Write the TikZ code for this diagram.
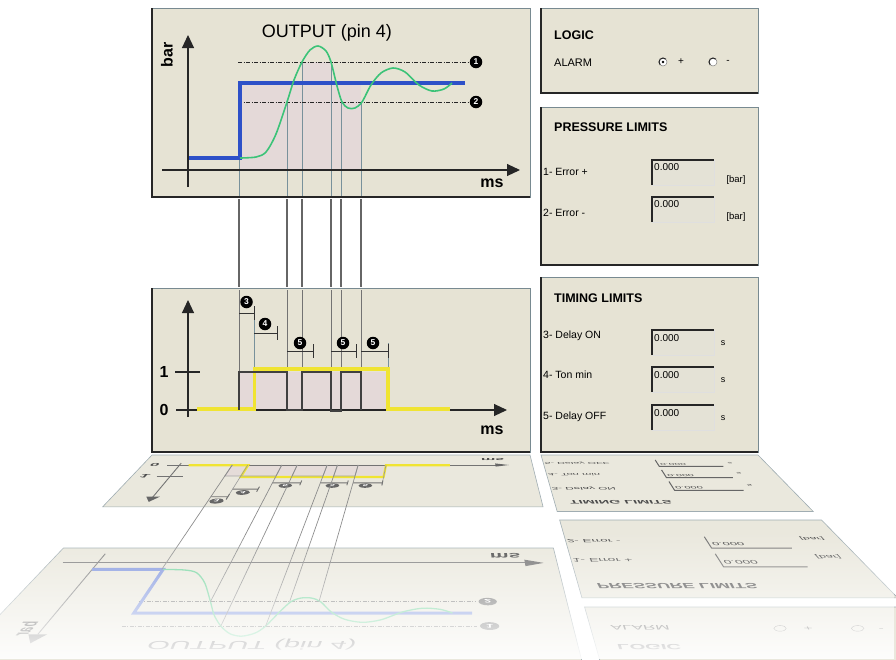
\documentclass[tikz,border=0pt]{standalone}
\usepackage{fontspec}
\setmainfont{Liberation Sans}
\usetikzlibrary{arrows.meta,fadings}

\definecolor{panelbg}{RGB}{230,227,212}
\definecolor{mirbg}{RGB}{234,232,221}
\definecolor{fieldbg}{RGB}{228,226,214}
\definecolor{edgegray}{RGB}{120,138,145}
\definecolor{guide}{RGB}{120,145,155}
\definecolor{outblue}{RGB}{45,80,200}
\definecolor{wavegreen}{RGB}{60,195,120}
\definecolor{sigyellow}{RGB}{240,228,50}
\definecolor{shadepink}{RGB}{228,217,216}

\pgfkeys{/mir/.cd, x/.store in=\mirx, y/.store in=\miry}
\newcommand\mirpoint[4]{%
  \pgfmathsetmacro\mird{#1-(\miry)}%
  \pgfmathsetmacro\miryy{#2+#3*\mird+#4*\mird*\mird}%
  \pgfmathsetmacro\mirxx{451+((\mirx)-451)*(1+(\miryy-455)/314)}%
  \pgfpointxy{\mirxx}{\miryy}}
\tikzdeclarecoordinatesystem{mira}{\pgfkeys{/mir/.cd,#1}\mirpoint{452}{455}{0.2109}{0.000647}}
\tikzdeclarecoordinatesystem{mirb}{\pgfkeys{/mir/.cd,#1}\mirpoint{198}{548}{0.52}{0.0004}}
\tikzdeclarecoordinatesystem{mirp}{\pgfkeys{/mir/.cd,#1}\mirpoint{265}{520}{0.351}{0.0009}}
\tikzdeclarecoordinatesystem{mirl}{\pgfkeys{/mir/.cd,#1}\mirpoint{93}{607}{0.69}{0}}

\begin{document}
\begin{tikzpicture}[x=1pt,y=-1pt,
  panel/.style={fill=panelbg,draw=edgegray,line width=0.7pt},
  rim/.style={black!85,line width=2.6pt},
  mirpanel/.style={fill=mirbg,draw=edgegray!70,line width=0.6pt},
  axis/.style={black!85,line width=1.1pt},
  axisarrow/.style={-{Triangle[length=13pt,width=12pt]}},
  guideline/.style={guide,line width=0.6pt},
  gapline/.style={black!60,line width=1.5pt},
  limit/.style={black!85,line width=0.8pt,dash pattern=on 4pt off 1.5pt on 1pt off 1.5pt},
  bracketline/.style={black!80,line width=0.9pt},
  num/.style={circle,fill=black,text=white,inner sep=0pt,minimum size=12.5pt,
    font=\bfseries\fontsize{8.5}{9}\selectfont},
  txt/.style={inner sep=0pt,font=\fontsize{#1}{#1}\selectfont},
  boldtxt/.style={inner sep=0pt,font=\bfseries\fontsize{#1}{#1}\selectfont},
  mir/.style n args={3}{cm={#1,0,#2,-#3,(0,0)}},
  mirtxt/.style={text=black!70}]
\useasboundingbox (0,0) rectangle (896,659);

% reflection of the lower graph
\filldraw[mirpanel] (mira cs:x=152,y=452) -- (mira cs:x=530,y=452) -- (mira cs:x=530,y=288) -- (mira cs:x=152,y=288) -- cycle;
\fill[shadepink!80!mirbg] (mira cs:x=239,y=410) -- (mira cs:x=388,y=410) -- (mira cs:x=388,y=372) -- (mira cs:x=239,y=372) -- cycle;
\draw[black!55,line width=0.9pt] (mira cs:x=176,y=410) -- (mira cs:x=495,y=410);
\fill[black!60] (mira cs:x=507,y=410) -- (mira cs:x=494,y=404) -- (mira cs:x=494,y=416) -- cycle;
\draw[black!55,line width=0.9pt] (mira cs:x=188,y=417) -- (mira cs:x=188,y=312);
\fill[black!60] (mira cs:x=188,y=300) -- (mira cs:x=182,y=313) -- (mira cs:x=194,y=313) -- cycle;
\draw[black!55] (mira cs:x=175,y=372) -- (mira cs:x=200,y=372);
\draw[sigyellow,line width=2.2pt] (mira cs:x=197,y=409) -- (mira cs:x=254.5,y=409) -- (mira cs:x=254.5,y=369)
  -- (mira cs:x=388,y=369) -- (mira cs:x=388,y=409) -- (mira cs:x=450,y=409);
\draw[black!35,line width=0.8pt] (mira cs:x=239,y=410) -- (mira cs:x=239,y=372) -- (mira cs:x=287,y=372) -- (mira cs:x=287,y=410)
  (mira cs:x=302,y=410) -- (mira cs:x=302,y=372) -- (mira cs:x=331,y=372) -- (mira cs:x=331,y=410)
  (mira cs:x=341,y=410) -- (mira cs:x=341,y=372) -- (mira cs:x=361,y=372) -- (mira cs:x=361,y=410);
\draw[black!40,line width=0.6pt] (mira cs:x=254,y=410) -- (mira cs:x=254,y=306) (mira cs:x=388,y=410) -- (mira cs:x=388,y=343);
\foreach \xa/\xb/\yb in {239/254/313, 254/277/333, 287/313/351, 331/356/351, 361/388/351}
  \draw[bracketline,black!55] (mira cs:x=\xa,y=\yb) -- (mira cs:x=\xb,y=\yb) (mira cs:x=\xb,y=\yb-7) -- (mira cs:x=\xb,y=\yb+7);
\node[num,fill=black!60,mir={1.146}{-0.264}{0.405}] at (mira cs:x=246.5,y=302) {3};
\node[num,fill=black!60,mir={1.12}{-0.223}{0.376}] at (mira cs:x=265,y=324) {4};
\node[num,fill=black!60,mir={1.098}{-0.169}{0.352}] at (mira cs:x=300,y=343) {5};
\node[num,fill=black!60,mir={1.098}{-0.121}{0.352}] at (mira cs:x=343,y=343) {5};
\node[num,fill=black!60,mir={1.098}{-0.087}{0.352}] at (mira cs:x=373,y=343) {5};
\node[mirtxt,boldtxt=16,mir={1.03}{-0.24}{0.265}] at (mira cs:x=164,y=410) {0};
\node[mirtxt,boldtxt=16,mir={1.07}{-0.29}{0.314}] at (mira cs:x=164,y=372) {1};
\node[mirtxt,boldtxt=16,mir={1.015}{0.03}{0.24}] at (mira cs:x=492,y=430) {ms};

% reflection of the upper graph
\filldraw[mirpanel] (mirb cs:x=152,y=198) -- (mirb cs:x=530,y=198) -- (mirb cs:x=530,y=8) -- (mirb cs:x=152,y=8) -- cycle;
\draw[black!50,line width=0.9pt] (mirb cs:x=162,y=170) -- (mirb cs:x=506,y=170);
\fill[black!55] (mirb cs:x=520,y=170) -- (mirb cs:x=506,y=164) -- (mirb cs:x=506,y=176) -- cycle;
\draw[black!50,line width=0.9pt] (mirb cs:x=188,y=187) -- (mirb cs:x=188,y=49);
\fill[black!55] (mirb cs:x=188,y=35) -- (mirb cs:x=182,y=49) -- (mirb cs:x=194,y=49) -- cycle;
\draw[limit,black!50] (mirb cs:x=238,y=62) -- (mirb cs:x=468,y=62);
\draw[limit,black!50] (mirb cs:x=238,y=102) -- (mirb cs:x=468,y=102);
\draw[outblue!60,line width=3pt] (mirb cs:x=188,y=158) -- (mirb cs:x=240,y=158) -- (mirb cs:x=240,y=83) -- (mirb cs:x=465,y=83);
\draw[wavegreen!70,line width=1.3pt] plot[smooth] coordinates {(mirb cs:x=240,y=158) (mirb cs:x=256,y=157)
  (mirb cs:x=266,y=152) (mirb cs:x=276,y=134) (mirb cs:x=287,y=102) (mirb cs:x=294,y=80) (mirb cs:x=302,y=62)
  (mirb cs:x=310,y=50) (mirb cs:x=318,y=46) (mirb cs:x=326,y=51) (mirb cs:x=331,y=62) (mirb cs:x=337,y=86)
  (mirb cs:x=342,y=102) (mirb cs:x=348,y=108) (mirb cs:x=355,y=108) (mirb cs:x=362,y=102) (mirb cs:x=371,y=85)
  (mirb cs:x=381,y=73) (mirb cs:x=393,y=68) (mirb cs:x=405,y=72) (mirb cs:x=419,y=85) (mirb cs:x=432,y=91)
  (mirb cs:x=444,y=89) (mirb cs:x=452,y=83)};
\node[num,fill=black!55,mir={1.545}{0.05}{0.629}] at (mirb cs:x=476,y=62) {1};
\node[num,fill=black!55,mir={1.467}{0.048}{0.597}] at (mirb cs:x=476,y=102) {2};
\node[mirtxt,boldtxt=16,mir={1.32}{0.07}{0.532}] at (mirb cs:x=492,y=183) {ms};
\node[mirtxt,txt=18,mir={1.604}{-0.257}{0.652}] at (mirb cs:x=327,y=33) {OUTPUT (pin 4)};
\node[mirtxt,boldtxt=14,cm={-0.56,-0.634,-1.5,0,(0,0)}] at (mirb cs:x=177,y=58) {bar};

% guides across both reflections
\foreach \gx/\gy in {239/158, 287/102, 302/62, 331/62, 341/102, 361/102}
  \draw[black!45,line width=0.7pt] (mira cs:x=\gx,y=410) -- (mira cs:x=\gx,y=288) -- (mirb cs:x=\gx,y=198) -- (mirb cs:x=\gx,y=\gy);

% reflection of timing limits
\filldraw[mirpanel] (mira cs:x=541,y=452) -- (mira cs:x=758,y=452) -- (mira cs:x=758,y=277) -- (mira cs:x=541,y=277) -- cycle;
\foreach \ya in {330,367,405}
  \draw[black!60,line width=1pt] (mira cs:x=652,y=\ya+25) -- (mira cs:x=652,y=\ya) -- (mira cs:x=714,y=\ya);
\node[mirtxt,txt=10.5,anchor=west,mir={1.027}{0.10}{0.26}] at (mira cs:x=542,y=416.7) {5- Delay OFF};
\node[mirtxt,txt=10.5,anchor=west,mir={1.067}{0.117}{0.31}] at (mira cs:x=542,y=375) {4- Ton min};
\node[mirtxt,txt=10.5,anchor=west,mir={1.106}{0.136}{0.36}] at (mira cs:x=542,y=336) {3- Delay ON};
\node[mirtxt,boldtxt=12.5,anchor=west,mir={1.155}{0.21}{0.41}] at (mira cs:x=554,y=298) {TIMING LIMITS};
\node[mirtxt,txt=10,anchor=west,mir={1.028}{0.18}{0.26}] at (mira cs:x=654,y=412.5) {0.000};
\node[mirtxt,txt=10,anchor=west,mir={1.062}{0.216}{0.308}] at (mira cs:x=654,y=374.5) {0.000};
\node[mirtxt,txt=10,anchor=west,mir={1.101}{0.25}{0.356}] at (mira cs:x=654,y=337.5) {0.000};
\node[mirtxt,txt=9,mir={1.026}{0.23}{0.26}] at (mira cs:x=723,y=418) {s};
\node[mirtxt,txt=9,mir={1.06}{0.27}{0.31}] at (mira cs:x=723,y=381) {s};
\node[mirtxt,txt=9,mir={1.1}{0.31}{0.356}] at (mira cs:x=723,y=343) {s};

% reflection of pressure limits
\filldraw[mirpanel] (mirp cs:x=541,y=265) -- (mirp cs:x=758,y=265) -- (mirp cs:x=758,y=107) -- (mirp cs:x=541,y=107) -- cycle;
\foreach \ya in {160,197}
  \draw[black!55,line width=1pt] (mirp cs:x=652,y=\ya+25) -- (mirp cs:x=652,y=\ya) -- (mirp cs:x=714,y=\ya);
\node[mirtxt,txt=10.5,anchor=west,mir={1.273}{0.16}{0.445}] at (mirp cs:x=542,y=213) {2- Error -};
\node[mirtxt,txt=10.5,anchor=west,mir={1.336}{0.19}{0.518}] at (mirp cs:x=542,y=172) {1- Error +};
\node[mirtxt,boldtxt=12.5,anchor=west,mir={1.415}{0.31}{0.6}] at (mirp cs:x=554,y=127) {PRESSURE LIMITS};
\node[mirtxt,txt=10,anchor=west,mir={1.344}{0.37}{0.526}] at (mirp cs:x=654,y=167.5) {0.000};
\node[mirtxt,txt=10,anchor=west,mir={1.28}{0.32}{0.455}] at (mirp cs:x=654,y=204.5) {0.000};
\node[mirtxt,txt=9.5,mir={1.323}{0.46}{0.504}] at (mirp cs:x=736,y=180) {[bar]};
\node[mirtxt,txt=9.5,mir={1.264}{0.39}{0.434}] at (mirp cs:x=736,y=218) {[bar]};

% reflection of logic
\filldraw[mirpanel] (mirl cs:x=541,y=93) -- (mirl cs:x=758,y=93) -- (mirl cs:x=758,y=8) -- (mirl cs:x=541,y=8) -- cycle;
\node[mirtxt,txt=11,anchor=west,mir={1.55}{0.2}{0.6}] at (mirl cs:x=554,y=63) {ALARM};
\node[mirtxt,boldtxt=12.5,anchor=west,mir={1.61}{0.2}{0.6}] at (mirl cs:x=554,y=35) {LOGIC};
\draw[black!55] (mirl cs:x=663,y=62) ellipse[x radius=6.2,y radius=2.8];
\draw[black!55] (mirl cs:x=713,y=62) ellipse[x radius=6.3,y radius=2.8];
\node[mirtxt,txt=10,mir={1.55}{0.3}{0.6}] at (mirl cs:x=681,y=62) {+};
\node[mirtxt,txt=10,mir={1.55}{0.3}{0.6}] at (mirl cs:x=728,y=62) {-};

\fill[white,path fading=north,fill opacity=0.92] (0,530) rectangle (896,659);

% front panels
\foreach \xa/\ya/\xb/\yb in {152/8/530/197, 152/288/530/452, 541/8/758/93, 541/107/758/265, 541/277/758/452} {
  \draw[panel] (\xa,\ya) rectangle (\xb,\yb);
  \draw[rim] (\xa,\ya) |- (\xb,\yb);
}
\fill[shadepink] (240,83) rectangle (361,170);
\fill[shadepink] (302,62) rectangle (331,83);
\fill[shadepink] (239,372) rectangle (388,410);

% guides between the graphs
\foreach \gx/\gy in {239/158, 287/102, 302/62, 331/62, 341/102, 361/102} {
  \draw[guideline] (\gx,\gy) -- (\gx,196);
  \draw[gapline] (\gx,199) -- (\gx,287);
  \draw[black!55,line width=0.8pt] (\gx,290) -- (\gx,410);
}
\draw[guideline] (254,306) -- (254,410);
\draw[guideline] (388,343) -- (388,410);

% upper graph
\draw[limit] (238,62) -- (468,62);
\draw[limit] (238,102) -- (468,102);
\node[num] (lim1) at (476,62) {1};
\node[num] (lim2) at (476,102) {2};
\draw[outblue,line width=3.8pt] (188,158) -- (240,158) -- (240,83) -- (465,83);
\draw[wavegreen,line width=1.6pt] plot[smooth] coordinates {(240,158) (256,157) (266,152) (276,134) (287,102)
  (294,80) (302,62) (310,50) (318,46) (326,51) (331,62) (337,86) (342,102) (348,108) (355,108) (362,102)
  (371,85) (381,73) (393,68) (405,72) (419,85) (432,91) (444,89) (452,83)};
\draw[axis,axisarrow] (188,187) -- (188,35);
\draw[axis,axisarrow] (162,170) -- (520,170);
\node[txt=18] (title) at (327,33) {OUTPUT (pin 4)};
\node[boldtxt=16,rotate=90] (barlabel) at (167,55) {bar};
\node[boldtxt=16] (mstop) at (492,183) {ms};

% lower graph
\draw[axis,axisarrow] (188,417) -- (188,300);
\draw[axis,axisarrow] (176,410) -- (507,410);
\draw[axis] (175,372) -- (200,372);
\draw[sigyellow,line width=3.2pt] (197,409) -- (254.5,409) -- (254.5,369) -- (388,369) -- (388,409) -- (450,409);
\draw[black!75,line width=1.2pt] (239,410) -- (239,372) -- (287,372) -- (287,410) -- (302,410) -- (302,372)
  -- (331,372) -- (331,411) -- (341,411) -- (341,372) -- (361,372) -- (361,410);
\foreach \xa/\xb/\yb in {239/254/313, 254/277/333, 287/313/351, 331/356/351, 361/388/351}
  \draw[bracketline] (\xa,\yb) -- (\xb,\yb) (\xb,\yb-7) -- (\xb,\yb+7);
\node[num] (d3) at (246.5,302) {3};
\node[num] (d4) at (265,324) {4};
\node[num] (d5a) at (300,343) {5};
\node[num] (d5b) at (343,343) {5};
\node[num] (d5c) at (373,343) {5};
\node[boldtxt=16] (one) at (164,372) {1};
\node[boldtxt=16] (zero) at (164,410) {0};
\node[boldtxt=16] (msbottom) at (492,430) {ms};

% logic
\node[boldtxt=12.5,anchor=west] (logic) at (554,35) {LOGIC};
\node[txt=11,anchor=west] (alarm) at (554,63) {ALARM};
\foreach \rx in {663,713} {
  \draw[gray,fill=white,line width=0.5pt] (\rx,62) circle[radius=4];
  \draw[black!85,line width=1pt] (\rx,62) ++(135:4) arc[start angle=135,end angle=315,radius=4];
}
\fill (663,62) circle[radius=1.3];
\node[txt=10] (plus) at (681,62) {+};
\node[txt=10] (minus) at (728,62) {-};

% pressure limits
\node[boldtxt=12.5,anchor=west] (plimits) at (554,127) {PRESSURE LIMITS};
\foreach \ya/\ly/\lab in {160/172/1- Error +, 197/213/2- Error -} {
  \node[txt=10.5,anchor=west] at (543,\ly) {\lab};
  \fill[fieldbg] (652,\ya) rectangle (714,\ya+25);
  \draw[white!75!gray,line width=0.6pt] (652,\ya+25) -| (714,\ya);
  \draw[black!85,line width=1.3pt] (652,\ya+25) |- (714,\ya);
  \node[txt=10,anchor=west] at (654,\ya+7.5) {0.000};
  \node[txt=9.5] at (736,\ya+20) {[bar]};
}

% timing limits
\node[boldtxt=12.5,anchor=west] (tlimits) at (554,298) {TIMING LIMITS};
\foreach \ya/\ly/\lab in {330/336/3- Delay ON, 367/375/4- Ton min, 405/416.7/5- Delay OFF} {
  \node[txt=10.5,anchor=west] at (543,\ly) {\lab};
  \fill[fieldbg] (652,\ya) rectangle (714,\ya+25);
  \draw[white!75!gray,line width=0.6pt] (652,\ya+25) -| (714,\ya);
  \draw[black!85,line width=1.3pt] (652,\ya+25) |- (714,\ya);
  \node[txt=10,anchor=west] at (654,\ya+8.5) {0.000};
  \node[txt=9] at (723,\ya+13) {s};
}
\end{tikzpicture}
\end{document}
